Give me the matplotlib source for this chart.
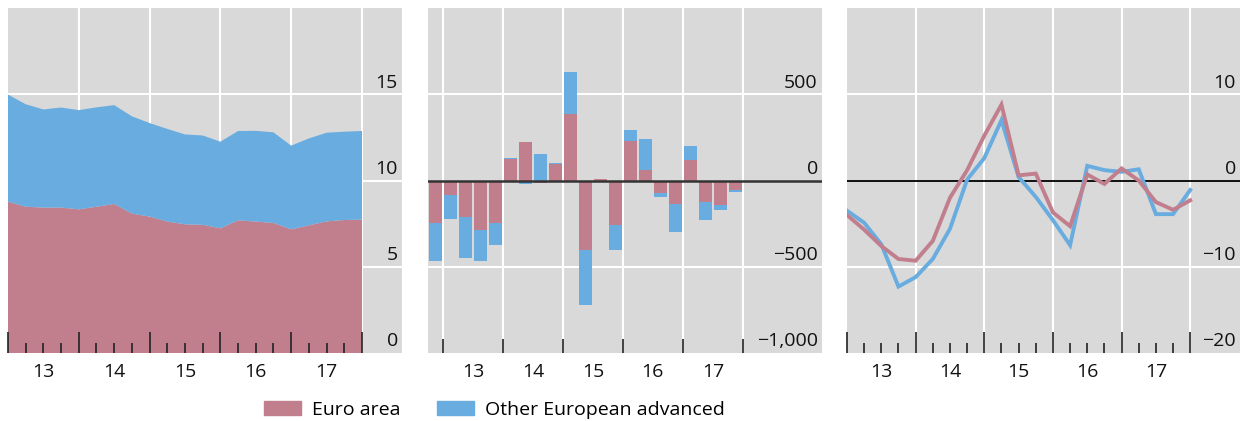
import numpy as np
import matplotlib
matplotlib.use("Agg")
import matplotlib.pyplot as plt
from matplotlib.patches import Patch

plt.rcParams['font.family'] = ['Open Sans', 'DejaVu Sans']

# colours
RED = "#c17f8e"
BLUE = "#69ace0"
BG = "#d9d9d9"
TICK = "#222222"

years = ["13", "14", "15", "16", "17"]

# left panel: stacked levels, quarterly
euro_lvl = [8.77, 8.48, 8.43, 8.43, 8.33, 8.48, 8.64, 8.08, 7.91, 7.62, 7.46,
            7.43, 7.23, 7.69, 7.62, 7.54, 7.17, 7.40, 7.63, 7.71, 7.73]
other_lvl = [6.21, 5.94, 5.69, 5.80, 5.75, 5.76, 5.73, 5.64, 5.42, 5.37, 5.21,
             5.18, 5.02, 5.18, 5.26, 5.25, 4.85, 5.04, 5.14, 5.12, 5.14]

# middle panel: quarterly flows
euro_flow = [-246, -83, -213, -285, -246, 123, 223, -12, 96, 385, -400,
             10, -256, 229, 62, -73, -135, 119, -123, -142, -54]
other_flow = [-221, -142, -239, -182, -129, 8, -19, 154, 6, 242, -323,
              0, -144, 63, 178, -25, -161, 81, -104, -27, -11]

# right panel: growth rates
euro_g = [-4.0, -5.7, -7.6, -9.1, -9.3, -7.0, -2.0, 1.2, 5.2, 8.8, 0.6,
          0.8, -3.7, -5.3, 0.7, -0.4, 1.4, 0.0, -2.5, -3.4, -2.3]
other_g = [-3.5, -4.9, -7.4, -12.3, -11.2, -9.1, -5.6, 0.1, 2.6, 7.0, 0.4,
           -1.9, -4.6, -7.5, 1.7, 1.2, 1.0, 1.3, -3.9, -3.9, -1.1]

fig = plt.figure(figsize=(12.4, 4.21), dpi=100)
W, H = 1240, 421


def make_ax(left, right, top=8, bottom=353):
    ax = fig.add_axes([left / W, (H - bottom) / H, (right - left) / W, (bottom - top) / H])
    ax.set_facecolor(BG)
    for s in ax.spines.values():
        s.set_visible(False)
    ax.tick_params(axis="y", left=False, right=False, labelleft=False, labelright=False)
    ax.tick_params(axis="x", which="both", direction="in", color=TICK, width=1.2,
                   labelbottom=False, top=False)
    return ax


def grid(ax, xs, ys):
    for x in xs:
        ax.axvline(x, color="white", lw=1.5, zorder=0.5)
    for y in ys:
        ax.axhline(y, color="white", lw=1.5, zorder=0.5)


def ylabels(ax, vals, texts):
    for v, t in zip(vals, texts):
        ax.annotate(t, (1, v), xycoords=ax.get_yaxis_transform(), xytext=(-3, 1.8),
                    textcoords="offset points", ha="right", va="bottom", fontsize=14,
                    color="#111111")


def xlabels(ax, pos):
    for p, t in zip(pos, years):
        ax.annotate(t, (p, 0), xycoords=ax.get_xaxis_transform(), xytext=(0, -7),
                    textcoords="offset points", ha="center", va="top", fontsize=14,
                    color="#111111")


n = len(euro_lvl)
q = np.arange(n)
majors = np.arange(0, n, 4)
minors = [i for i in q if i % 4 != 0]
mids = majors[:-1] + 2

# ---- left panel
ax1 = make_ax(8, 402)
ax1.stackplot(q, euro_lvl, other_lvl, colors=[RED, BLUE], lw=0, zorder=1)
grid(ax1, majors[1:], [5, 10, 15])
ax1.set_xlim(0, 22.26)
ax1.set_ylim(0, 20)
ax1.set_xticks(majors)
ax1.set_xticks(minors, minor=True)
ax1.tick_params(axis="x", which="major", length=15)
ax1.tick_params(axis="x", which="minor", length=7.5)
ylabels(ax1, [0, 5, 10, 15], ["0", "5", "10", "15"])
xlabels(ax1, mids)

# ---- middle panel
ax2 = make_ax(428, 822)
ef = np.array(euro_flow)
of = np.array(other_flow)
same = np.sign(ef) == np.sign(of)
ax2.bar(q, ef, width=0.86, color=RED, zorder=1)
ax2.bar(q, of, bottom=np.where(same, ef, 0), width=0.86, color=BLUE, zorder=1)
grid(ax2, majors + 0.5, [-500, 500])
ax2.axhline(0, color="#333333", lw=1.8, zorder=3)
ax2.set_xlim(-0.49, 25.78)
ax2.set_ylim(-1000, 1000)
ax2.set_xticks(majors + 0.5)
ax2.tick_params(axis="x", which="major", length=10)
ylabels(ax2, [-1000, -500, 0, 500], ["\u22121,000", "\u2212500", "0", "500"])
xlabels(ax2, mids + 0.5)

# ---- right panel
ax3 = make_ax(847, 1240)
grid(ax3, majors[1:], [-10, 10])
ax3.axhline(0, color="black", lw=1.3, zorder=1.8)
ax3.plot(q, other_g, color=BLUE, lw=2.8, zorder=2, solid_joinstyle="miter")
ax3.plot(q, euro_g, color=RED, lw=2.8, zorder=2.1, solid_joinstyle="miter")
ax3.set_xlim(0, 22.9)
ax3.set_ylim(-20, 20)
ax3.set_xticks(majors)
ax3.set_xticks(minors, minor=True)
ax3.tick_params(axis="x", which="major", length=15)
ax3.tick_params(axis="x", which="minor", length=7.5)
ylabels(ax3, [-20, -10, 0, 10], ["\u221220", "\u221210", "0", "10"])
xlabels(ax3, mids)

handles = [Patch(color=RED, label="Euro area"),
           Patch(color=BLUE, label="Other European advanced")]
fig.legend(handles=handles, loc="center", bbox_to_anchor=(494.5 / W, 11 / H), ncol=2,
           frameon=False, fontsize=14, handlelength=1.9, handleheight=0.77,
           handletextpad=0.57, columnspacing=1.85, borderpad=0)

fig.savefig("out.png", dpi=100)
